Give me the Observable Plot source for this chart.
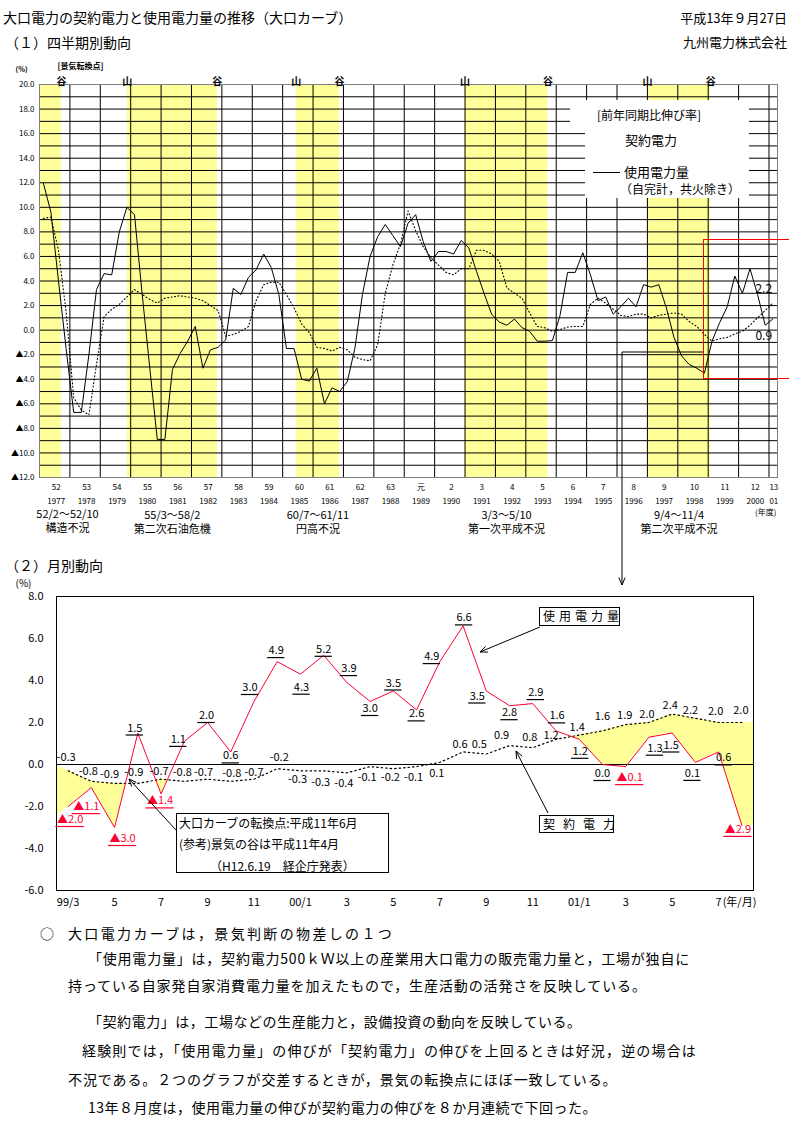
<!DOCTYPE html>
<html lang="ja"><head><meta charset="utf-8">
<script src="https://cdn.jsdelivr.net/npm/d3@7"></script>
<script src="https://cdn.jsdelivr.net/npm/@observablehq/plot@0.6"></script>
<style>
html,body{margin:0;padding:0;background:#fff;}
#page{position:relative;width:789px;height:1132px;overflow:hidden;font-family:"Noto Sans CJK JP","Noto Sans",sans-serif;color:#000;}
.t{position:absolute;white-space:nowrap;}
.pb{position:absolute;left:0;}
</style></head>
<body><div id="page"></div>
<script>
// ---------------- DATA ----------------
// (1) quarterly, fiscal year from FY1977 (S52) Q1 to FY2001 (H13) Q1, y/y growth %
const fyStart = 1977;
const eraLabels = ["52","53","54","55","56","57","58","59","60","61","62","63","元","2","3","4","5","6","7","8","9","10","11","12","13"];
const yearLabels = ["1977","1978","1979","1980","1981","1982","1983","1984","1985","1986","1987","1988","1989","1990","1991","1992","1993","1994","1995","1996","1997","1998","1999","2000","01"];
const usageQ = [
 12.0, 9.6, 4.0,-1.5, -6.7,-6.7,-2.0, 3.3, 4.6, 4.5, 8.0,10.0, 9.4, 3.0,-3.0,-8.9,
 -8.9,-3.2,-1.9,-0.9, 0.3,-3.1,-1.6,-1.4, -0.8, 3.4, 2.9, 4.3, 4.9, 6.2, 5.1, 2.9,
 -1.5,-1.5,-4.0,-4.15, -3.1,-6.0,-4.7,-5.0, -4.2,-1.5, 2.9, 6.0, 7.6, 8.6, 7.7, 6.8,
 8.7, 9.4, 7.2, 5.6, 6.4, 6.4, 6.2, 7.3, 6.7, 4.8, 3.0, 1.3, 0.65, 0.4, 0.9, 0.2,
 -0.1,-0.9,-0.9,-0.85, 1.2, 4.7, 4.7, 6.3, 4.5, 2.4, 2.7, 1.3, 1.9, 2.6, 1.9, 3.7,
 3.5, 3.7, 1.8,-0.6, -2.1,-2.8,-3.1,-3.5, -0.9, 0.6, 1.9, 4.4, 3.0, 5.0, 2.9, 0.4,
 0.9];
const contractQ = [
 9.1, 9.2, 6.5, 1.5, -5.5,-6.5,-6.9,-2.8, 1.1, 1.7, 2.1, 2.7, 3.3, 2.9, 2.5, 2.2,
 2.6, 2.7, 2.8, 2.7, 2.6, 2.4, 2.0, 1.6, -0.5,-0.35,-0.1, 0.3, 2.4, 3.7, 3.9, 3.9,
 2.9, 1.8, 0.5,-0.2, -1.4,-1.5,-1.7,-1.4, -1.6,-2.2,-2.4,-2.5, -1.2, 3.0, 5.3, 7.0,
 9.7, 8.1, 6.8, 5.9, 5.3, 4.7, 4.5, 5.0, 5.0, 6.5, 6.5, 6.2, 5.6, 3.45, 3.0, 2.6,
 1.4, 0.3, 0.2,-0.1, 0.05, 0.25, 0.3, 0.3, 2.1, 2.6, 2.2, 1.7, 1.2, 1.1, 1.3, 1.3,
 1.0, 1.2, 1.3, 1.4, 1.3, 0.7, 0.3,-0.35, -0.9,-0.7,-0.6,-0.3, -0.1, 0.4, 1.0, 1.6,
 2.2];
// recessions (fiscal-year fraction) and their labels
const recStart = [1977.0, 1979.89, 1985.45, 1991.0, 1997.0];
const recEnd   = [1977.72, 1982.85, 1986.87, 1993.73, 1999.08];
const recDates = ["52/2～52/10","55/3～58/2","60/7～61/11","3/3～5/10","9/4～11/4"];
const recNames = ["構造不況","第二次石油危機","円高不況","第一次平成不況","第二次平成不況"];

// (2) monthly, 99/3 .. 01/8
const months = ["99/3","99/4","99/5","99/6","99/7","99/8","99/9","99/10","99/11","99/12",
 "00/1","00/2","00/3","00/4","00/5","00/6","00/7","00/8","00/9","00/10","00/11","00/12",
 "01/1","01/2","01/3","01/4","01/5","01/6","01/7","01/8"];
const usageM = [-2.0,-1.1,-3.0,1.5,-1.4,1.1,2.0,0.6,3.0,4.9, 4.3,5.2,3.9,3.0,3.5,2.6,4.9,6.6,3.5,2.8,2.9,1.6, 1.2,0.0,-0.1,1.3,1.5,0.1,0.6,-2.9];
const contractM = [-0.3,-0.8,-0.9,-0.9,-0.7,-0.8,-0.7,-0.8,-0.7,-0.2, -0.3,-0.3,-0.4,-0.1,-0.2,-0.1,0.1,0.6,0.5,0.9,0.8,1.2, 1.4,1.6,1.9,2.0,2.4,2.2,2.0,2.0];
const monthTickLabels = ["99/3","5","7","9","11","00/1","3","5","7","9","11","01/1","3","5","7"];

// ---------------- LAYOUT ----------------
const FONT = '"Noto Sans CJK JP","Noto Sans",sans-serif';
const page = document.getElementById("page");
const YEL = "#ffff99", RED = "#ff0033";
const cv = document.createElement("canvas").getContext("2d");
function measure(s, fs) { cv.font = fs + 'px "Noto Sans CJK JP"'; return cv.measureText(s).width; }

function txt(s, x, cy, fs, o = {}) {
  const d = document.createElement("div");
  d.className = "t"; d.textContent = s;
  d.style.fontSize = fs + "px"; d.style.lineHeight = (fs * 1.2) + "px";
  d.style.top = (cy - fs * 0.6) + "px";
  if (o.right != null) d.style.right = o.right + "px"; else d.style.left = x + "px";
  let ls = o.ls;
  if (o.fitTo) ls = (o.fitTo - x - measure(s, fs)) / [...s].length;
  if (ls) d.style.letterSpacing = ls + "px";
  if (o.color) d.style.color = o.color;
  if (o.weight) d.style.fontWeight = o.weight;
  page.appendChild(d); return d;
}
function box(x, y, w, h, o = {}) {
  const d = document.createElement("div");
  d.style.position = "absolute"; d.style.left = x + "px"; d.style.top = y + "px";
  d.style.width = w + "px"; d.style.height = h + "px"; d.style.boxSizing = "border-box";
  d.style.background = o.bg || "transparent";
  if (o.border) d.style.border = o.border;
  if (o.noRight) d.style.borderRight = "none";
  page.appendChild(d); return d;
}

// headings
txt("大口電力の契約電力と使用電力量の推移（大口カーブ）", 3, 17, 14);
txt("（１）四半期別動向", 5, 42, 14);
txt("平成13年９月27日", 0, 18, 13, {right: 2});
txt("九州電力株式会社", 0, 42, 13, {right: 2});
txt("（２）月別動向", 5, 565, 14);

// ---------------- TOP CHART ----------------
const quarters = usageQ.map((u, i) => ({x: fyStart + (i + 0.5) / 4, usage: u, contract: contractQ[i]}));
const years = d3.range(fyStart, fyStart + eraLabels.length);
const recs = recStart.map((s, i) => ({start: s, end: recEnd[i], dates: recDates[i], name: recNames[i], i}));
const xMaxTop = 2001.28, yMinTop = -12, yMaxTop = 20;
const yrCenter = y => Math.min(y + 0.55, xMaxTop - 0.12);
const turns = [];
for (const r of recs) {
  if (r.i > 0) turns.push({x: r.start, t: "山"});
  turns.push({x: r.end, t: "谷"});
}
const topPlot = Plot.plot({
  width: 789, height: 537, marginLeft: 39, marginRight: 12, marginTop: 29, marginBottom: 115,
  style: {fontFamily: FONT, fontSize: "8px", background: "transparent", overflow: "visible"},
  x: {domain: [fyStart, xMaxTop], axis: null},
  y: {domain: [yMinTop, yMaxTop], ticks: d3.range(yMinTop, yMaxTop + 1, 2),
      tickFormat: d => d < 0 ? "▲" + (-d).toFixed(1) : d.toFixed(1), tickSize: 0, tickPadding: 5, label: null},
  marks: [
    Plot.rect(recs, {x1: "start", x2: "end", y1: () => yMinTop, y2: () => yMaxTop, fill: YEL}),
    Plot.ruleY(d3.range(yMinTop + 1, yMaxTop), {stroke: "#000", strokeWidth: 1}),
    Plot.ruleX(d3.range(fyStart + 1, 2002), {stroke: "#000", strokeWidth: 1}),
    Plot.frame({stroke: "#808080"}),
    Plot.line(quarters, {x: "x", y: "contract", stroke: "#000", strokeWidth: 1.1, strokeDasharray: "1,2.5"}),
    Plot.line(quarters, {x: "x", y: "usage", stroke: "#000", strokeWidth: 1}),
    Plot.text([quarters.at(-1)], {x: "x", y: "contract", text: d => d.contract.toFixed(1), dx: -9, dy: -14, fontSize: 12}),
    Plot.text([quarters.at(-1)], {x: "x", y: "usage", text: d => d.usage.toFixed(1), dx: -9, dy: 17, fontSize: 12}),
    // turning points
    Plot.text(turns, {x: "x", text: "t", frameAnchor: "top", dy: -7, fontSize: 10, fontWeight: "bold"}),
    Plot.text(["[景気転換点]"], {frameAnchor: "top-left", dx: 18, dy: -21, textAnchor: "start", fontSize: 8, fontWeight: "bold"}),
    Plot.text(["(%)"], {frameAnchor: "top-left", dx: -24, dy: -17, textAnchor: "start", fontSize: 7, fontWeight: "bold"}),
    // year labels
    Plot.text(years, {x: yrCenter, text: (d, i) => eraLabels[i], frameAnchor: "bottom", dy: 12, fontSize: 8}),
    Plot.text(years, {x: yrCenter, text: (d, i) => yearLabels[i], frameAnchor: "bottom", dy: 26, fontSize: 8}),
    Plot.text(["(年度)"], {frameAnchor: "bottom-right", dx: -1, dy: 37, textAnchor: "end", fontSize: 8}),
    // recession labels
    Plot.text(recs.slice(0, 1), {x: d => (d.start + d.end) / 2, text: "dates", frameAnchor: "bottom", dy: 40, dx: 17, fontSize: 11}),
    Plot.text(recs.slice(0, 1), {x: d => (d.start + d.end) / 2, text: "name", frameAnchor: "bottom", dy: 54, dx: 17, fontSize: 11}),
    Plot.text(recs.slice(1), {x: d => (d.start + d.end) / 2, text: "dates", frameAnchor: "bottom", dy: 41, fontSize: 11}),
    Plot.text(recs.slice(1), {x: d => (d.start + d.end) / 2, text: "name", frameAnchor: "bottom", dy: 55, fontSize: 11})
  ]
});
const tp = document.createElement("div"); tp.className = "pb"; tp.style.top = "55px";
tp.appendChild(topPlot); page.appendChild(tp);

// legend (white patch over the grid)
box(570, 100, 179, 24, {bg: "#fff"});
box(585, 100, 164, 98, {bg: "#fff"});
txt("[前年同期比伸び率]", 597, 115, 12);
txt("契約電力", 625, 140, 13);
box(593, 172, 27, 1, {bg: "#000"});
txt("使用電力量", 624, 172, 13);
txt("（自完計，共火除き）", 620, 189, 12);
// red highlight frame (open to the right)
box(703, 239, 100, 140, {border: "1px solid #ff0000", noRight: true});

// ---------------- MONTHLY CHART ----------------
const monthly = months.map((m, k) => ({k, m, usage: usageM[k], contract: contractM[k]}));
const kMin = -0.5, kMax = months.length - 0.5;
const mW = 789, mML = 56, mMR = 36;
const PXK = (mW - mML - mMR) / (kMax - kMin);   // pixels per month
function gapFill(u, c) {
  const pts = [];
  const push = (x, uu, cc) => pts.push({x, lo: Math.min(uu, cc), hi: cc});
  push(kMin, u[0] + (u[0] - u[1]) * 0.5, c[0] + (c[0] - c[1]) * 0.5);
  for (let i = 0; i < u.length; i++) {
    if (i > 0) {
      const d0 = u[i - 1] - c[i - 1], d1 = u[i] - c[i];
      if (d0 * d1 < 0) { const t = d0 / (d0 - d1); const v = c[i - 1] + t * (c[i] - c[i - 1]); push(i - 1 + t, v, v); }
    }
    push(i, u[i], c[i]);
  }
  push(kMax, u.at(-1), c.at(-1));
  return pts;
}
const fillPts = gapFill(usageM, contractM);
// label placement offsets [dx, dy] in px (layout only)
const usageLblOff = [[2,13],[-5,19],[8,11],[-3,-5],[-1,7],[-6,-2],[-1,-7],[0,4],[-4,-14],[-1,-11],
  [1,13],[0,-6],[2,-14],[0,7],[0,-8],[0,4],[-8,-5],[1,-8],[-9,5],[0,7],
  [3,-11],[1,-15],[1,12],[0,9],[4,11],[6,11],[-1,12],[-3,11],[5,6],[-4,4]];
const contractLblOff = [[-2,-13],[-3,-10],[-5,-9],[-4,-11],[-2,-8],[-2,-9],[-4,-7],[1,-8],[0,-7],[2,-11],
  [-3,9],[-3,12],[-3,11],[-3,11],[-3,9],[-3,11],[-3,11],[-3,-7],[-7,-10],[-8,-10],
  [-3,-10],[-5,-4],[-2,-8],[0,-14],[-1,-9],[-2,-8],[-2,-9],[-5,-8],[-3,-11],[-1,-12]];
const fmtU = v => v < 0 ? "▲" + (-v).toFixed(1) : v.toFixed(1);
const usageItems = monthly.map(d => ({k: d.k, v: d.usage, t: fmtU(d.usage), c: d.usage < 0 ? RED : "#000",
  dx: usageLblOff[d.k][0], dy: usageLblOff[d.k][1], w: measure(fmtU(d.usage), 11)}));
const contractItems = monthly.map(d => ({k: d.k, v: d.contract, t: d.contract.toFixed(1), c: "#000",
  dx: contractLblOff[d.k][0], dy: contractLblOff[d.k][1]}));
function labelMarks(items, underline) {
  const out = [];
  for (const [, arr] of d3.groups(items, d => d.dx + "," + d.dy)) {
    const {dx, dy} = arr[0];
    out.push(Plot.text(arr, {x: "k", y: "v", text: "t", dx, dy, fill: "c", fontSize: 11}));
    if (underline) out.push(Plot.ruleY(arr, {y: "v", x1: d => d.k + (dx - d.w / 2 - 1) / PXK, x2: d => d.k + (dx + d.w / 2 + 1) / PXK,
      dy: dy + 7, stroke: "c", strokeWidth: 1.2}));
  }
  return out;
}
const tickKs = monthTickLabels.map((_, i) => i * 2);

const monPlot = Plot.plot({
  width: mW, height: 340, marginLeft: mML, marginRight: mMR, marginTop: 16, marginBottom: 30,
  style: {fontFamily: FONT, fontSize: "11px", background: "transparent", overflow: "visible"},
  x: {domain: [kMin, kMax], axis: null},
  y: {domain: [-6, 8], ticks: d3.range(-6, 9, 2), tickFormat: d => d.toFixed(1), tickSize: 0, tickPadding: 13, label: null},
  marks: [
    Plot.areaY(fillPts, {x: "x", y1: "lo", y2: "hi", fill: YEL}),
    Plot.ruleY([0], {stroke: "#000"}),
    Plot.frame({stroke: "#000"}),
    Plot.line(monthly, {x: "k", y: "contract", stroke: "#000", strokeWidth: 1.2, strokeDasharray: "1.5,3"}),
    Plot.line(monthly, {x: "k", y: "usage", stroke: RED, strokeWidth: 1}),
    ...labelMarks(contractItems, false),
    ...labelMarks(usageItems, true),
    // x tick labels
    Plot.text(tickKs, {x: d => d, text: (d, i) => monthTickLabels[i], frameAnchor: "bottom", dy: 15, fontSize: 11}),
    Plot.text(tickKs.slice(-1), {x: d => d, text: () => "(年/月)", frameAnchor: "bottom", dy: 15, dx: 4, textAnchor: "start", fontSize: 11}),
    Plot.text(["(%)"], {frameAnchor: "top-left", dx: -41, dy: -17, textAnchor: "start", fontSize: 10})
  ]
});
const mp = document.createElement("div"); mp.className = "pb"; mp.style.top = "580px";
mp.appendChild(monPlot); page.appendChild(mp);

// annotation boxes
box(539, 607, 81, 19, {bg: "#fff", border: "1px solid #000"});
txt("使用電力量", 543, 616.5, 12, {ls: 4});
box(539, 815, 75, 18, {bg: "#fff", border: "1px solid #000"});
txt("契約電力", 543, 824, 12, {ls: 8});
box(176, 813, 213, 60, {bg: "#fff", border: "1px solid #000"});
txt("大口カーブの転換点:平成11年6月", 179, 823, 12);
txt("(参考)景気の谷は平成11年4月", 179, 844, 12);
txt("（H12.6.19　経企庁発表）", 210, 866, 12);

// overlay connectors & arrows
const ov = d3.select(page).append("svg").attr("width", 789).attr("height", 1132)
  .style("position", "absolute").style("left", 0).style("top", 0).style("pointer-events", "none");
function arrow(pts, headLen = 8) {
  ov.append("path").attr("d", d3.line()(pts)).attr("fill", "none").attr("stroke", "#000").attr("stroke-width", 1);
  const [x1, y1] = pts.at(-2), [x2, y2] = pts.at(-1);
  const a = Math.atan2(y2 - y1, x2 - x1);
  for (const s of [-1, 1]) {
    const b = a + Math.PI + s * 0.4;
    ov.append("line").attr("x1", x2).attr("y1", y2).attr("x2", x2 + headLen * Math.cos(b)).attr("y2", y2 + headLen * Math.sin(b))
      .attr("stroke", "#000").attr("stroke-width", 1);
  }
}
arrow([[703, 352], [622, 352], [622, 585]]);
arrow([[540, 627], [480, 652]]);
arrow([[548, 813], [516, 751]]);
arrow([[176, 830], [129, 779]]);

// bottom paragraph (x start, text, right edge in the reference)
const para = [
  [40, "○", null],
  [68, "大口電力カーブは，景気判断の物差しの１つ", 395],
  [88, "「使用電力量」は，契約電力500ｋＷ以上の産業用大口電力の販売電力量と，工場が独自に", 690],
  [68, "持っている自家発自家消費電力量を加えたもので，生産活動の活発さを反映している。", 648],
  [88, "「契約電力」は，工場などの生産能力と，設備投資の動向を反映している。", 582],
  [82, "経験則では，「使用電力量」の伸びが「契約電力」の伸びを上回るときは好況，逆の場合は", 697],
  [68, "不況である。２つのグラフが交差するときが，景気の転換点にほぼ一致している。", 618],
  [88, "13年８月度は，使用電力量の伸びが契約電力の伸びを８か月連続で下回った。", 597]
];
const paraY = [933, 933, 958, 985, 1021, 1050, 1079, 1107];
para.forEach(([x, s, r], i) => txt(s, x, paraY[i], 14, r ? {fitTo: r} : {}));
</script></body></html>
